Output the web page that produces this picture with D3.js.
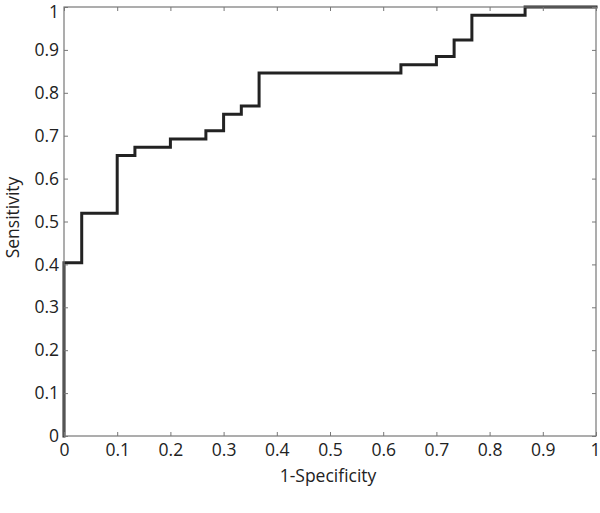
<!DOCTYPE html>
<html><head><meta charset="utf-8">
<script src="https://cdn.jsdelivr.net/npm/d3@7"></script>
<style>body{margin:0;background:#fff;} svg{display:block;} text{font-family:"Open Sans",sans-serif;fill:#222;}</style>
</head><body>
<svg id="c" width="600" height="513"></svg>
<script>
// ROC step points (1-Specificity, Sensitivity)
const fpr = [0, 0, 0.0333, 0.0333, 0.1, 0.1, 0.1333, 0.1333, 0.2, 0.2, 0.2667, 0.2667, 0.3, 0.3, 0.3333, 0.3333, 0.3667, 0.3667, 0.6333, 0.6333, 0.7, 0.7, 0.7333, 0.7333, 0.7667, 0.7667, 0.8667, 0.8667, 1];
const tpr = [0, 0.4038, 0.4038, 0.5192, 0.5192, 0.6538, 0.6538, 0.6731, 0.6731, 0.6923, 0.6923, 0.7115, 0.7115, 0.75, 0.75, 0.7692, 0.7692, 0.8462, 0.8462, 0.8654, 0.8654, 0.8846, 0.8846, 0.9231, 0.9231, 0.9808, 0.9808, 1, 1];
const tickVals = [0, 0.1, 0.2, 0.3, 0.4, 0.5, 0.6, 0.7, 0.8, 0.9, 1];
const xTitle = "1-Specificity";
const yTitle = "Sensitivity";

const svg = d3.select("#c");
const L = 64, R = 596, T = 7, B = 436;
const FS = "17.5px";
const x = d3.scaleLinear().domain([0, 1]).range([L, R]);
const y = d3.scaleLinear().domain([0, 1]).range([B, T]);
const fmt = d => d === 0 ? "0" : d === 1 ? "1" : d3.format(".1f")(d);
const axisColor = "#777";

// curve
const pts = fpr.map((v, i) => [v, tpr[i]]);
svg.append("path")
  .attr("d", d3.line().x(d => x(d[0])).y(d => y(d[1]))(pts))
  .attr("fill", "none").attr("stroke", "#222").attr("stroke-width", 3)
  .attr("stroke-linejoin", "miter").attr("stroke-linecap", "square");

function styleAxis(g) {
  g.select(".domain").remove();
  g.selectAll("line").attr("stroke", axisColor).attr("stroke-width", 1);
  g.selectAll("text").style("font-size", FS).style("font-family", "'Open Sans',sans-serif").attr("fill", "#222");
}
// bottom axis (inward ticks)
const bx = svg.append("g").attr("transform", `translate(0,${B})`)
  .call(d3.axisBottom(x).tickValues(tickVals).tickFormat(fmt).tickSizeInner(-4).tickSizeOuter(0).tickPadding(8))
  .call(styleAxis);
// keep the last label inside the picture
bx.selectAll(".tick").filter(d => d === 1).select("text").attr("text-anchor", "end").attr("dx", "4");
const ly = svg.append("g").attr("transform", `translate(${L},0)`)
  .call(d3.axisLeft(y).tickValues(tickVals).tickFormat(fmt).tickSizeInner(-4).tickSizeOuter(0).tickPadding(5))
  .call(styleAxis);
// keep the top label inside the picture
ly.selectAll(".tick").filter(d => d === 1).select("text").attr("dy", "0.6em");
svg.append("g").attr("transform", `translate(0,${T})`)
  .call(d3.axisTop(x).tickValues(tickVals).tickFormat("").tickSizeInner(-4).tickSizeOuter(0))
  .call(styleAxis);
svg.append("g").attr("transform", `translate(${R},0)`)
  .call(d3.axisRight(y).tickValues(tickVals).tickFormat("").tickSizeInner(-4).tickSizeOuter(0))
  .call(styleAxis);

// box
svg.append("rect").attr("x", L).attr("y", T).attr("width", R - L).attr("height", B - T)
  .attr("fill", "none").attr("stroke", axisColor).attr("stroke-width", 1.2);

svg.append("text").attr("x", 328).attr("y", 482).attr("text-anchor", "middle")
  .style("font-size", FS).text(xTitle);
svg.append("text").attr("transform", `translate(19,217.5) rotate(-90)`).attr("text-anchor", "middle")
  .style("font-size", FS).text(yTitle);
</script>
</body></html>
